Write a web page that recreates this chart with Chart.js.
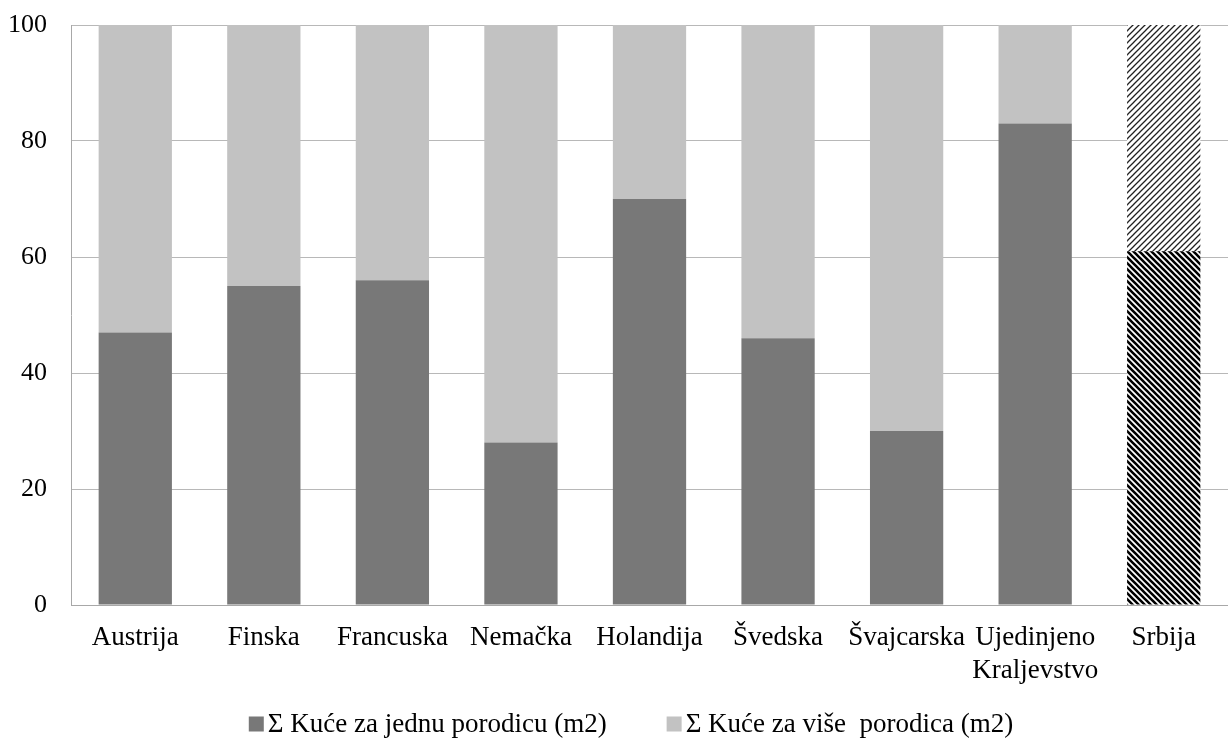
<!DOCTYPE html>
<html>
<head>
<meta charset="utf-8">
<script src="https://cdn.jsdelivr.net/npm/chart.js@4/dist/chart.umd.min.js"></script>
<style>
  html, body { margin: 0; padding: 0; background: #ffffff; }
  #wrap { width: 1228px; height: 740px; }
</style>
</head>
<body>
<div id="wrap"><canvas id="c" width="1228" height="740"></canvas></div>
<script>
const categories = ["Austrija", "Finska", "Francuska", "Nemačka", "Holandija", "Švedska", "Švajcarska", ["Ujedinjeno", "Kraljevstvo"], "Srbija"];
const jednaPorodica = [47, 55, 56, 28, 70, 46, 30, 83, 61];
const visePorodica = [53, 45, 44, 72, 30, 54, 70, 17, 39];
const yTicks = [0, 20, 40, 60, 80, 100];
const seriesNames = ["Σ Kuće za jednu porodicu (m2)", "Σ Kuće za više  porodica (m2)"];

const DARK = "#787878";
const LIGHT = "#c2c2c2";
const FAMILY = "'Liberation Serif', 'Times New Roman', serif";

// Diagonal hatch tiles for the last bar
function hatch(dir, width, color) {
  const s = 6;
  const t = document.createElement("canvas");
  t.width = s; t.height = s;
  const g = t.getContext("2d");
  g.fillStyle = "#ffffff";
  g.fillRect(0, 0, s, s);
  g.strokeStyle = color;
  g.lineWidth = width;
  g.beginPath();
  for (let k = -1; k <= 1; k++) {
    if (dir === "down") {
      g.moveTo(k * s - 1, -1); g.lineTo(k * s + s + 1, s + 1);
    } else {
      g.moveTo(k * s - 1, s + 1); g.lineTo(k * s + s + 1, -1);
    }
  }
  g.stroke();
  return g.createPattern(t, "repeat");
}
const ctx = document.getElementById("c").getContext("2d");
const darkHatch = hatch("down", 2.6, "#000000");
const lightHatch = hatch("up", 1.3, "#202020");

const darkColors = categories.map((_, i) => i === categories.length - 1 ? darkHatch : DARK);
const lightColors = categories.map((_, i) => i === categories.length - 1 ? lightHatch : LIGHT);

const axisFont = { family: FAMILY, size: 27 };

// Bottom legend: small square swatch, tight gap to the text, wide gap between items
const bottomLegend = {
  id: "bottomLegend",
  afterDraw(chart) {
    const c = chart.ctx;
    const box = 15, boxGap = 4, itemGap = 60;
    c.save();
    c.font = "27px " + FAMILY;
    c.textBaseline = "middle";
    c.textAlign = "left";
    const items = chart.data.datasets.map((d, i) => ({
      text: d.label, color: i === 0 ? DARK : LIGHT, w: c.measureText(d.label).width
    }));
    const total = items.reduce((s, it) => s + box + boxGap + it.w, 0) + itemGap * (items.length - 1);
    let x = chart.width / 2 + 17 - total / 2;
    const y = 724;
    items.forEach(it => {
      c.fillStyle = it.color;
      c.fillRect(x, y - box / 2, box, box);
      x += box + boxGap;
      c.fillStyle = "#000000";
      c.fillText(it.text, x, y + 1);
      x += it.w + itemGap;
    });
    c.restore();
  }
};

new Chart(ctx, {
  type: "bar",
  data: {
    labels: categories,
    datasets: [
      { label: seriesNames[0], data: jednaPorodica, backgroundColor: darkColors, borderWidth: 0,
        categoryPercentage: 1, barPercentage: 0.57 },
      { label: seriesNames[1], data: visePorodica, backgroundColor: lightColors, borderWidth: 0,
        categoryPercentage: 1, barPercentage: 0.57 }
    ]
  },
  plugins: [bottomLegend],
  options: {
    responsive: false,
    animation: false,
    layout: { padding: { left: 0, right: 0, top: 25, bottom: 0 } },
    plugins: {
      tooltip: { enabled: false },
      legend: { display: false }
    },
    scales: {
      x: {
        stacked: true,
        grid: { display: false },
        border: { display: true, color: "#a8a8a8", width: 1 },
        ticks: { font: axisFont, color: "#000000", padding: 9, maxRotation: 0, autoSkip: false },
        afterFit(axis) {
          axis.height = 135;
          axis.paddingLeft = 0; axis.paddingRight = 0;
        }
      },
      y: {
        stacked: true,
        min: 0,
        max: 100,
        afterBuildTicks(axis) { axis.ticks = yTicks.map(v => ({ value: v })); },
        grid: { color: "#b8b8b8", lineWidth: 1, drawTicks: false },
        border: { display: true, color: "#a8a8a8", width: 1 },
        ticks: { font: { family: FAMILY, size: 26 }, color: "#000000", padding: 24 },
        afterFit(axis) {
          axis.width = 71;
          axis.paddingTop = 0; axis.paddingBottom = 0;
        }
      }
    }
  }
});
</script>
</body>
</html>
